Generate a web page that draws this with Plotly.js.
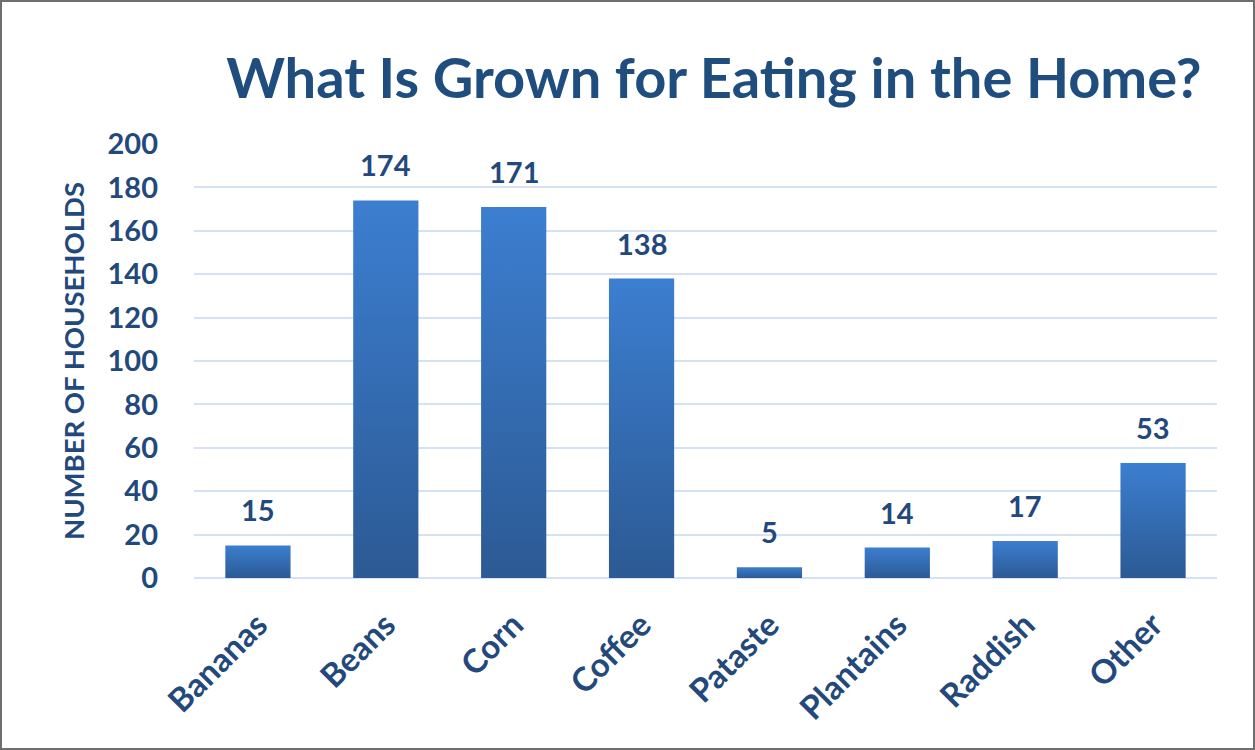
<!DOCTYPE html>
<html><head><meta charset="utf-8">
<script src="https://cdn.plot.ly/plotly-3.0.1.min.js"></script>
<style>
html,body{margin:0;padding:0;background:#fff;}
#frame{position:absolute;left:0;top:0;width:1251px;height:746px;border:2px solid #6e6e6e;}
#chart{width:1251px;height:746px;}
</style></head>
<body><div id="frame"><div id="chart"></div></div>
<script>
const categories = ["Bananas","Beans","Corn","Coffee","Pataste","Plantains","Raddish","Other"];
const households = [15,174,171,138,5,14,17,53];
const yTicks = [0,20,40,60,80,100,120,140,160,180,200];

const textColor = "#23497C";
const fontFam = "Lato, 'Open Sans', sans-serif";

const trace = {
  type: "bar",
  x: categories,
  y: households,
  marker: {color: "#3568AE", line: {width: 0}},
  width: 0.51,
  hoverinfo: "x+y"
};

const annotations = categories.map((c,i)=>({
  x: c, y: households[i], xref:"x", yref:"y",
  text: String(households[i]), showarrow:false,
  yanchor:"bottom", yshift: 16,
  font:{family:fontFam, size:29, color:textColor, weight:700}
}));

const layout = {
  width: 1251, height: 746,
  margin: {l:192, r:36, t:142, b:170},
  paper_bgcolor:"#fff", plot_bgcolor:"#fff",
  title: {text:"<b>What Is Grown for Eating in the Home?</b>", x:0.569, xanchor:"center", y:0.898, yanchor:"middle",
          font:{family:fontFam, size:56, color:"#1F4E7E"}},
  xaxis: {tickangle:-45, tickfont:{family:fontFam, size:33, color:textColor, weight:700},
          showgrid:false, zeroline:false, showline:false, ticks:"", ticklen:0,
          ticklabelshift:0, ticklabelstandoff:20},
  yaxis: {range:[0,200], tickvals:yTicks, ticktext:yTicks.map(String),
          tickfont:{family:fontFam, size:29, color:textColor, weight:700},
          gridcolor:"#D5E2F4", gridwidth:2, zeroline:true, zerolinecolor:"#D5E2F4", zerolinewidth:2,
          showline:false, ticks:"", ticklabelstandoff:35,
          title:{text:"<b>NUMBER OF HOUSEHOLDS</b>", standoff:14, font:{family:fontFam, size:27.5, color:textColor}}},
  annotations: annotations,
  showlegend:false, bargap:0.49
};

Plotly.newPlot("chart",[trace],layout,{displayModeBar:false,staticPlot:true}).then(gd=>{
  const svg = gd.querySelector("svg.main-svg");
  const ns = "http://www.w3.org/2000/svg";
  let defs = svg.querySelector("defs");
  const g = document.createElementNS(ns,"linearGradient");
  g.setAttribute("id","barGrad"); g.setAttribute("x1","0"); g.setAttribute("y1","0"); g.setAttribute("x2","0"); g.setAttribute("y2","1");
  [["0%","#3C7ED0"],["100%","#2C5A94"]].forEach(([o,c])=>{
    const s=document.createElementNS(ns,"stop"); s.setAttribute("offset",o); s.setAttribute("stop-color",c); g.appendChild(s);
  });
  defs.appendChild(g);
  gd.querySelectorAll(".bars .point path").forEach(p=>{ p.style.fill="url(#barGrad)"; });
});
</script></body></html>
